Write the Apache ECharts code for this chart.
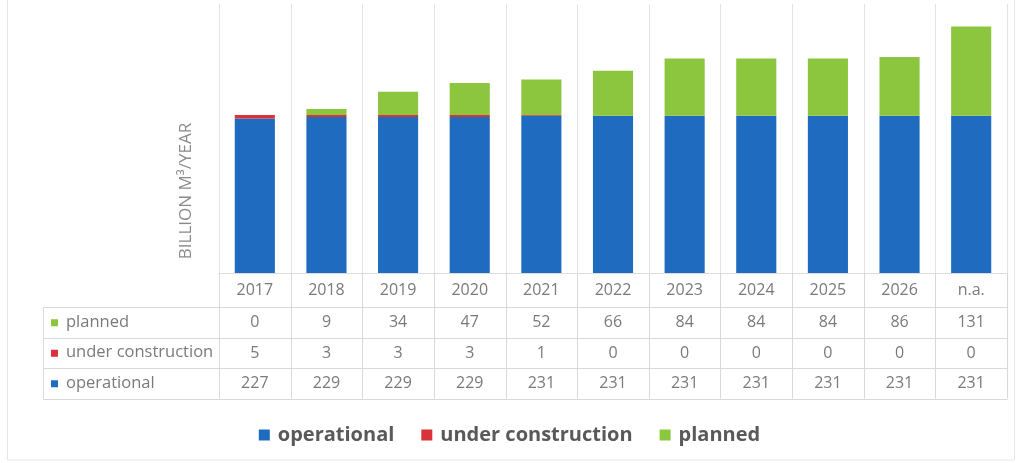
<!DOCTYPE html>
<html><head><meta charset="utf-8">
<script src="https://cdn.jsdelivr.net/npm/echarts@6/dist/echarts.min.js"></script>
<style>html,body{margin:0;padding:0;background:#fff}#c{width:1019px;height:463px}</style>
</head><body><div id="c"></div>
<script>
const categories = ['2017','2018','2019','2020','2021','2022','2023','2024','2025','2026','n.a.'];
const operational = [227,229,229,229,231,231,231,231,231,231,231];
const underConstruction = [5,3,3,3,1,0,0,0,0,0,0];
const planned = [0,9,34,47,52,66,84,84,84,86,131];
const seriesNames = ['operational','under construction','planned'];
const colors = ['#1f6bc0','#d9323a','#8cc63f'];
const yTitle = 'BILLION M\u00B3/YEAR';

const FONT = '"Open Sans", sans-serif';
const chart = echarts.init(document.getElementById('c'), null, {renderer:'canvas'});
const tableRows = [planned, underConstruction, operational];
const rowOffsets = [32, 63, 93];

const xAxes = [{
  type:'category', data:categories, gridIndex:0, position:'bottom',
  axisLine:{show:true, lineStyle:{color:'#d6d6d6', type:'dotted'}},
  axisTick:{show:false},
  splitLine:{show:false},
  axisLabel:{color:'#7a7a7a', fontFamily:FONT, fontSize:16, margin:9}
}];
tableRows.forEach((arr, k) => {
  xAxes.push({
    type:'category', data:categories, gridIndex:0, position:'bottom', offset:rowOffsets[k],
    axisLine:{show:false}, axisTick:{show:false}, splitLine:{show:false},
    axisLabel:{color:'#7a7a7a', fontFamily:FONT, fontSize:16, margin:9,
      formatter:(v, i) => String(arr[i])}
  });
});

chart.setOption({
  animation:false,
  grid:{left:219, right:12, top:4, bottom:190},
  xAxis:xAxes,
  yAxis:{type:'value', min:0, max:395, show:false},
  legend:{
    data:seriesNames, left:'center', top:420, itemWidth:11, itemHeight:11, itemGap:27,
    icon:'rect',
    textStyle:{color:'#595959', fontFamily:FONT, fontSize:20, fontWeight:'bold', padding:[0,0,0,3]}
  },
  series:[
    {name:seriesNames[0], type:'bar', stack:'s', data:operational, barWidth:'56%', itemStyle:{color:colors[0]}},
    {name:seriesNames[1], type:'bar', stack:'s', data:underConstruction, barWidth:'56%', itemStyle:{color:colors[1]}},
    {name:seriesNames[2], type:'bar', stack:'s', data:planned, barWidth:'56%', itemStyle:{color:colors[2]}}
  ]
});

// build table lines from axis pixel positions
const c0 = chart.convertToPixel({xAxisIndex:0}, 0);
const c1 = chart.convertToPixel({xAxisIndex:0}, 1);
const band = c1 - c0;
const baseY = chart.convertToPixel({yAxisIndex:0}, 0);
const topY = 4;
const rowH = 30.5;
const headerBottom = baseY + 34;
const tableBottom = headerBottom + rowH*3;
const tableLeft = 43;
const g = [];
const line = (x1,y1,x2,y2,col) => g.push({type:'line', silent:true, z:0,
  shape:{x1,y1,x2,y2}, style:{stroke:col||'#d9d9d9', lineWidth:1}});
// outer frame
g.push({type:'rect', silent:true, z:0, shape:{x:7.5, y:-6, width:1007, height:466},
  style:{fill:'none', stroke:'#e6e6e6', lineWidth:1}});
// vertical boundaries
for (let i = 0; i <= categories.length; i++) {
  const x = Math.round(c0 - band/2 + i*band) + 0.5;
  line(x, topY, x, baseY, '#e4e4e4');
  line(x, baseY, x, tableBottom, '#d9d9d9');
}
line(tableLeft+0.5, headerBottom, tableLeft+0.5, tableBottom);
const rightX = Math.round(c0 - band/2 + categories.length*band) + 0.5;
for (let r = 0; r <= 3; r++) {
  const y = Math.round(headerBottom + r*rowH) + 0.5;
  line(tableLeft, y, rightX, y);
}
// row labels
const rowNames = [seriesNames[2], seriesNames[1], seriesNames[0]];
const rowColors = [colors[2], colors[1], colors[0]];
rowNames.forEach((nm, r) => {
  const cy = headerBottom + rowH*(r+0.5);
  g.push({type:'rect', silent:true, shape:{x:51, y:cy-3, width:7, height:7}, style:{fill:rowColors[r]}});
  g.push({type:'text', silent:true, x:66, y:cy, style:{text:nm, fill:'#7a7a7a', font:'16.5px '+FONT,
    textAlign:'left', textVerticalAlign:'middle'}});
});
// y axis title
g.push({type:'text', silent:true, x:186, y:191, rotation:Math.PI/2,
  style:{text:yTitle, fill:'#8a8a8a', font:'17px '+FONT, textAlign:'center', textVerticalAlign:'middle'}});
chart.setOption({graphic:g});
</script></body></html>
